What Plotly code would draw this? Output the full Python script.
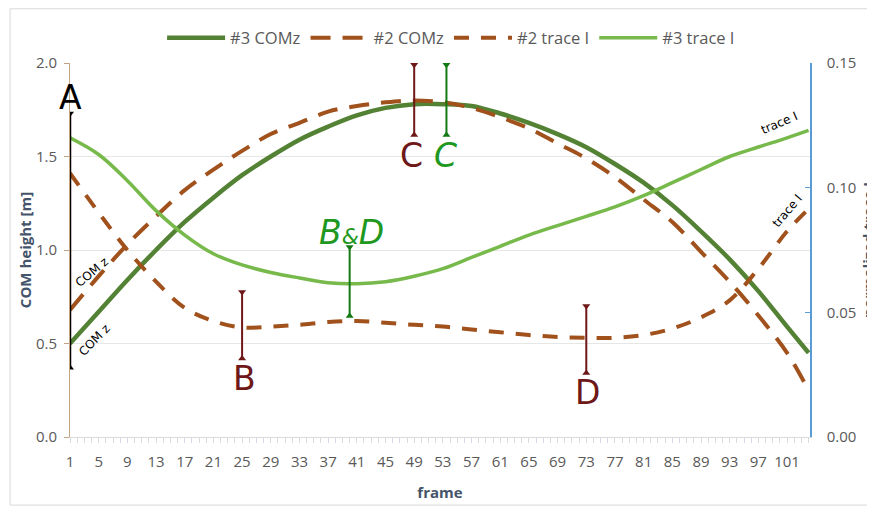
import plotly.graph_objects as go

# ---------------- data ----------------
frames = [1, 5, 9, 13, 17, 21, 25, 29, 33, 37, 41, 45, 49, 53, 57, 61, 65, 69,
          73, 77, 81, 85, 89, 93, 97, 101, 104]

com3 = [0.50, 0.67, 0.84, 1.00, 1.15, 1.28, 1.40, 1.50, 1.59, 1.66, 1.72, 1.76, 1.78,
        1.78, 1.77, 1.73, 1.68, 1.62, 1.55, 1.46, 1.36, 1.24, 1.10, 0.95, 0.78, 0.59, 0.45]

com2 = [0.68, 0.86, 1.03, 1.18, 1.32, 1.43, 1.53, 1.62, 1.68, 1.74, 1.77, 1.79, 1.80,
        1.79, 1.76, 1.71, 1.65, 1.57, 1.49, 1.39, 1.27, 1.15, 0.99, 0.83, 0.65, 0.45, 0.25]

trace2 = [0.1058, 0.0900, 0.0750, 0.0623, 0.0518, 0.0465, 0.0439, 0.0443, 0.0450,
          0.0461, 0.0465, 0.0458, 0.0450, 0.0443, 0.0431, 0.0420, 0.0409, 0.0401,
          0.0398, 0.0398, 0.0409, 0.0435, 0.0480, 0.0548, 0.0675, 0.0825, 0.0915]

trace3 = [0.1200, 0.1133, 0.1028, 0.0908, 0.0810, 0.0735, 0.0690, 0.0660, 0.0638,
          0.0619, 0.0615, 0.0623, 0.0645, 0.0675, 0.0720, 0.0765, 0.0810, 0.0848,
          0.0885, 0.0923, 0.0968, 0.1020, 0.1073, 0.1125, 0.1163, 0.1200, 0.1230]

series_names = ["#3 COMz", "#2 COMz", "#2 trace I", "#3 trace I"]

# event markers: frame, y from, y to (left axis units), label, label position
event_frames = [1, 25, 49, 53.5, 40, 73]
event_y0 = [0.37, 0.42, 1.615, 1.615, 0.647, 0.342]
event_y1 = [1.73, 0.775, 1.99, 1.99, 1.016, 0.70]
event_labels = ["A", "B", "C", "<i>C</i>",
                "<i>B<span style='font-size:22px'>&amp;</span>D</i>", "D"]
event_label_x = [1, 25.4, 48.6, 53.4, 40.3, 73.1]
event_label_y = [1.813, 0.315, 1.508, 1.508, 1.096, 0.24]

# ---------------- styles ----------------
DKGREEN = "#548235"
LTGREEN = "#77B94B"
BROWN = "#A0511C"
MAROON = "#6E1818"
MGREEN_LINE = "#137A13"
MGREEN_TXT = "#1E981E"
event_colors = ["#000000", MAROON, MAROON, MGREEN_LINE, MGREEN_LINE, MAROON]
event_text_colors = ["#000000", MAROON, MAROON, MGREEN_TXT, MGREEN_TXT, MAROON]

fig = go.Figure()
fig.add_trace(go.Scatter(x=frames, y=com3, name=series_names[0], mode="lines",
                         line=dict(color=DKGREEN, width=4.5, shape="spline")))
fig.add_trace(go.Scatter(x=frames, y=com2, name=series_names[1], mode="lines",
                         line=dict(color=BROWN, width=4, dash="20px,12px", shape="spline")))
fig.add_trace(go.Scatter(x=frames, y=trace2, name=series_names[2], mode="lines", yaxis="y2",
                         line=dict(color=BROWN, width=4, dash="15px,12px", shape="spline")))
fig.add_trace(go.Scatter(x=frames, y=trace3, name=series_names[3], mode="lines", yaxis="y2",
                         line=dict(color=LTGREEN, width=3.5, shape="spline")))

shapes = []
annotations = []
for i in range(len(event_frames)):
    w = 2.5 if i == 0 else 2
    shapes.append(dict(type="line", xref="x", yref="y", x0=event_frames[i], x1=event_frames[i],
                       y0=event_y0[i], y1=event_y1[i], layer="above",
                       line=dict(color=event_colors[i], width=w)))
    fig.add_trace(go.Scatter(x=[event_frames[i], event_frames[i]], y=[event_y1[i], event_y0[i]],
                             mode="markers", showlegend=False, hoverinfo="skip",
                             marker=dict(symbol=["triangle-down", "triangle-up"], size=7,
                                         color=event_colors[i])))
    annotations.append(dict(x=event_label_x[i], y=event_label_y[i], xref="x", yref="y",
                            text=event_labels[i], showarrow=False,
                            font=dict(family="DejaVu Sans", size=33, color=event_text_colors[i])))

# small line labels
small = [("COM z", 4.1, 0.88, -40), ("COM z", 4.4, 0.52, -46),
         ("trace I", 99.9, 1.68, -23), ("trace I", 101.0, 1.21, -50)]
for t, x, y, a in small:
    annotations.append(dict(x=x, y=y, xref="x", yref="y", text=t, showarrow=False,
                            textangle=a, font=dict(family="DejaVu Sans", size=12, color="#000000")))

# outer chart border
shapes.append(dict(type="rect", xref="paper", yref="paper", x0=-0.081, x1=1.1,
                   y0=-0.182, y1=1.145, layer="below", line=dict(color="#D9D9D9", width=1)))

AXIS_TXT = "#595959"
TITLE_TXT = "#44546A"

fig.update_layout(
    width=875, height=511,
    margin=dict(l=62, r=73, t=55, b=82),
    paper_bgcolor="white", plot_bgcolor="white",
    font=dict(family="Open Sans", size=15, color=AXIS_TXT),
    showlegend=True,
    legend=dict(orientation="h", x=0.515, xanchor="center", y=1.067, yanchor="middle",
                font=dict(size=16.5, color=AXIS_TXT), itemwidth=58, tracegroupgap=0,
                bgcolor="rgba(0,0,0,0)"),
    xaxis=dict(range=[1, 104.2], tickmode="linear", tick0=1, dtick=1, ticklabelstep=4,
               ticks="outside", ticklen=5, tickcolor="#D6DCE5", showgrid=False,
               showline=True, linecolor="#D9D9D9", linewidth=1, zeroline=False,
               tickfont=dict(size=15, color=AXIS_TXT), ticklabelstandoff=6, automargin=False,
               title=dict(text="<b>frame</b>", font=dict(size=15, color=TITLE_TXT), standoff=17)),
    yaxis=dict(range=[0, 2.0], dtick=0.5, tickformat=".1f", showgrid=True, gridcolor="#E6E6E6",
               gridwidth=1, zeroline=False, showline=True, linecolor="#C4A484", linewidth=1,
               ticks="outside", ticklen=5, tickcolor="#C4A484", automargin=False,
               tickfont=dict(size=15, color=AXIS_TXT), ticklabelstandoff=4,
               title=dict(text="<b>COM height [m]</b>", font=dict(size=15, color=TITLE_TXT),
                          standoff=0)),
    yaxis2=dict(range=[0, 0.15], dtick=0.05, tickformat=".2f", overlaying="y", side="right",
                showgrid=False, zeroline=False, showline=True, linecolor="#5B9BD5", linewidth=1.5,
                ticks="inside", ticklen=5, tickcolor="#5B9BD5", automargin=False,
                tickfont=dict(size=15, color=AXIS_TXT), ticklabelstandoff=12,
                title=dict(text="<b>normalized trace I</b>", font=dict(size=15, color=TITLE_TXT),
                           standoff=8)),
    shapes=shapes, annotations=annotations,
)

fig.write_html("out.html")
